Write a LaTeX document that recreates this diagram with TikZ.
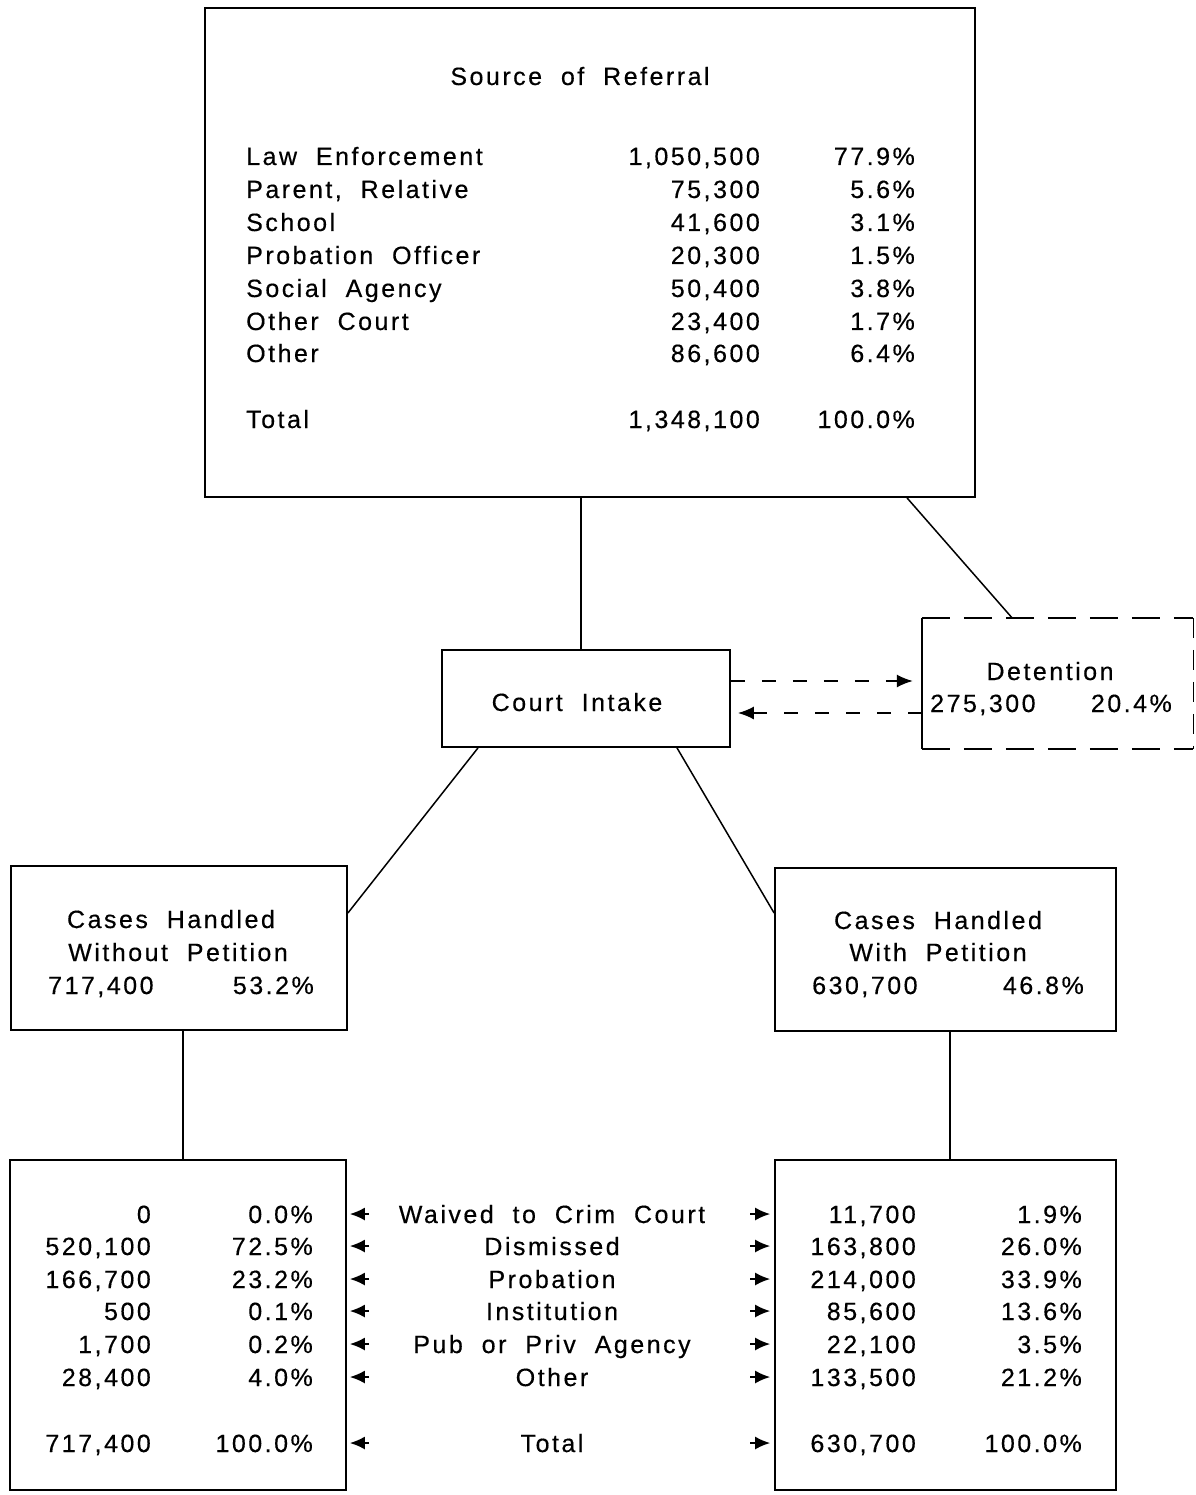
\documentclass[tikz,border=0pt]{standalone}
\usepackage{fontspec}
\setmainfont[LetterSpace=10,WordSpace=2.0,FakeBold=0.4]{Liberation Sans}
\usetikzlibrary{arrows.meta,calc}
\begin{document}
\begin{tikzpicture}[x=1pt,y=-1pt,
  box/.style={draw, line width=1.8pt, rectangle, inner sep=0pt},
  txt/.style={inner sep=0pt, font=\fontsize{25}{30}\selectfont},
  lt/.style={txt, anchor=base west},
  rt/.style={txt, anchor=base east},
  ct/.style={txt, anchor=base},
  conn/.style={line width=1.5pt},
  dconn/.style={line width=1.6pt, dash pattern=on 14pt off 17pt, -{Latex[length=16pt,width=13pt]}},
  sarr/.style={line width=1.6pt, -{Latex[length=15pt,width=13pt]}}]
\useasboundingbox (0,0) rectangle (1195,1495);

% boxes
\node[box, minimum width=770pt, minimum height=489pt] (src) at (590,252.5) {};
\node[box, minimum width=288pt, minimum height=97pt] (intake) at (586,698.5) {};
\node[minimum width=271pt, minimum height=131pt, inner sep=0pt] (det) at (1057.5,683.5) {};
\draw[line width=1.8pt, dash pattern=on 28pt off 14pt] (det.north west) -- (det.north east);
\draw[line width=1.8pt, dash pattern=on 28pt off 14pt] (det.south west) -- (det.south east);
\draw[line width=1pt, dash pattern=on 20pt off 12pt] (det.north east) -- (det.south east);
\draw[line width=1.8pt] (det.north west) -- (det.south west);
\node[box, minimum width=336pt, minimum height=164pt] (wo) at (179,948) {};
\node[box, minimum width=341pt, minimum height=163pt] (wp) at (945.5,949.5) {};
\node[box, minimum width=336pt, minimum height=330pt] (lb) at (178,1325) {};
\node[box, minimum width=341pt, minimum height=330pt] (rb) at (945.5,1325) {};

% connectors
\draw[conn] (581,0 |- src.south) -- (581,0 |- intake.north);
\draw[conn] (907,0 |- src.south) -- (1012,0 |- det.north);
\draw[conn] (478,0 |- intake.south) -- (wo.east |- 0,913);
\draw[conn] (677,0 |- intake.south) -- (wp.west |- 0,913);
\draw[conn] (183,0 |- wo.south) -- (183,0 |- lb.north);
\draw[conn] (950,0 |- wp.south) -- (950,0 |- rb.north);
\draw[dconn, shorten >=9pt] (intake.east |- 0,681) -- (det.west |- 0,681);
\draw[dconn, shorten >=7pt] (det.west |- 0,713) -- (intake.east |- 0,713);

% source of referral
\node[ct] (srct) at (580,85) {Source of Referral};
\foreach \n/\lab/\num/\pc/\y in {1/Law Enforcement/{1,050,500}/77.9\%/165,
  2/{Parent, Relative}/{75,300}/5.6\%/198,
  3/School/{41,600}/3.1\%/231,
  4/Probation Officer/{20,300}/1.5\%/264,
  5/Social Agency/{50,400}/3.8\%/297,
  6/Other Court/{23,400}/1.7\%/330,
  7/Other/{86,600}/6.4\%/362,
  8/Total/{1,348,100}/100.0\%/428}{
  \node[lt] (sl\n) at (246,\y) {\lab};
  \node[rt] (sn\n) at (760,\y) {\num};
  \node[rt] (sp\n) at (915,\y) {\pc};
}

% intake and detention
\node[ct] (intaket) at (577,711) {Court Intake};
\node[ct] (dett) at (1050,680) {Detention};
\node[lt] (detn) at (930,712) {275,300};
\node[rt] (detp) at (1172,712) {20.4\%};

% petition boxes
\node[ct] (wo1) at (171,928) {Cases Handled};
\node[ct] (wo2) at (178,961) {Without Petition};
\node[lt] (won) at (48,994) {717,400};
\node[rt] (wop) at (314,994) {53.2\%};
\node[ct] (wp1) at (938,929) {Cases Handled};
\node[ct] (wp2) at (938,961) {With Petition};
\node[lt] (wpn) at (812,994) {630,700};
\node[rt] (wpp) at (1084,994) {46.8\%};

% dispositions
\foreach \n/\ln/\lp/\lab/\rn/\rp/\y in {
  1/0/0.0\%/Waived to Crim Court/{11,700}/1.9\%/1223,
  2/{520,100}/72.5\%/Dismissed/{163,800}/26.0\%/1255,
  3/{166,700}/23.2\%/Probation/{214,000}/33.9\%/1288,
  4/500/0.1\%/Institution/{85,600}/13.6\%/1320,
  5/{1,700}/0.2\%/Pub or Priv Agency/{22,100}/3.5\%/1353,
  6/{28,400}/4.0\%/Other/{133,500}/21.2\%/1386,
  7/{717,400}/100.0\%/Total/{630,700}/100.0\%/1452}{
  \node[rt] (dln\n) at (151,\y) {\ln};
  \node[rt] (dlp\n) at (313,\y) {\lp};
  \node[ct] (dm\n) at (552,\y) {\lab};
  \node[rt] (drn\n) at (916,\y) {\rn};
  \node[rt] (drp\n) at (1082,\y) {\rp};
  \coordinate (al\n) at (369,\y-9);
  \coordinate (ar\n) at (750,\y-9);
  \draw[sarr, shorten >=3pt] (al\n) -- (lb.east |- al\n);
  \draw[sarr, shorten >=4pt] (ar\n) -- (rb.west |- ar\n);
}
\end{tikzpicture}
\end{document}
